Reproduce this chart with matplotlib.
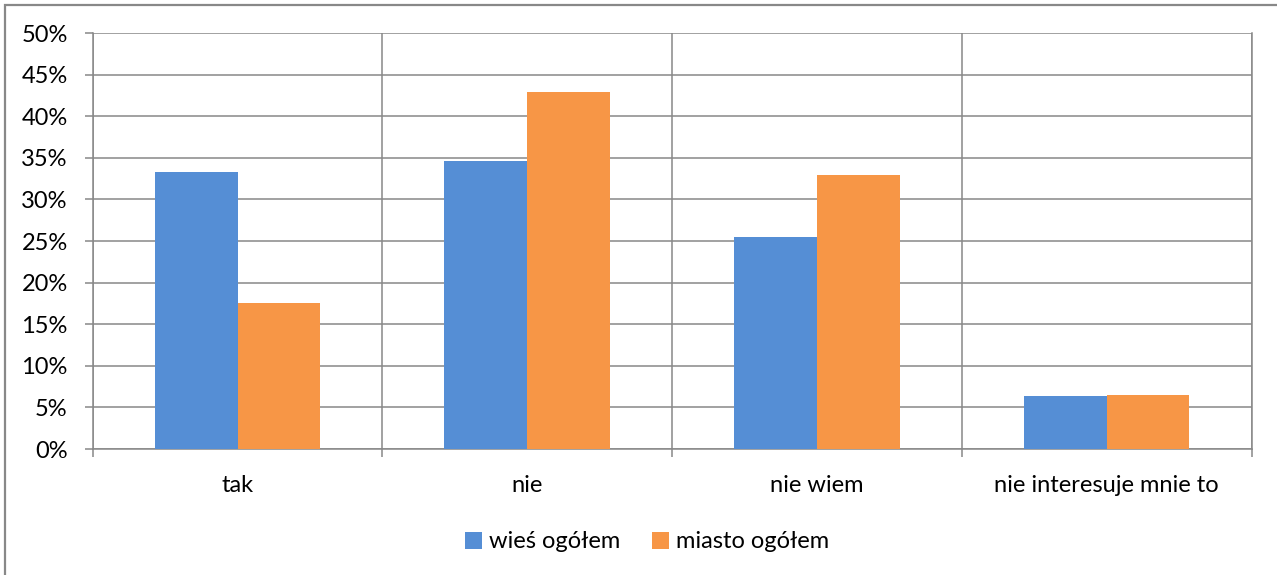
#!/usr/bin/env python

import numpy as np
import matplotlib
matplotlib.use('Agg')
import matplotlib.pyplot as plt
from matplotlib.patches import Rectangle
from matplotlib.ticker import PercentFormatter

plt.rcParams['font.family'] = ['Lato', 'DejaVu Sans']

# dane (w %)
kategorie = ['tak', 'nie', 'nie wiem', 'nie interesuje mnie to']
seria_nazwy = ['wieś ogółem', 'miasto ogółem']
wies = [33.3, 34.6, 25.5, 6.4]
miasto = [17.6, 42.9, 32.9, 6.5]
kolory = ['#558ED5', '#F79646']
y_ticks = np.arange(0, 51, 5)

szary = '#888888'
rozmiar = 17

fig = plt.figure(figsize=(12.77, 5.75), dpi=100)
ax = fig.add_axes([92.7 / 1277, 1 - 449 / 575, (1251.5 - 92.7) / 1277, (449 - 33) / 575])

x = np.arange(len(kategorie))
w = 1 / 3.5  # gap width 150%
ax.bar(x - w / 2, wies, width=w, color=kolory[0], label=seria_nazwy[0], zorder=3)
ax.bar(x + w / 2, miasto, width=w, color=kolory[1], label=seria_nazwy[1], zorder=3)

ax.set_xlim(-0.5, len(kategorie) - 0.5)
ax.set_ylim(0, 50)
ax.set_yticks(y_ticks)
ax.yaxis.set_major_formatter(PercentFormatter(decimals=0))

# granice kategorii jako linie siatki
ax.set_xticks(np.arange(-0.5, len(kategorie), 1))
ax.set_xticklabels([])
ax.set_xticks(x, minor=True)
ax.set_xticklabels(kategorie, minor=True)
ax.tick_params(axis='x', which='major', length=6, width=1.1, color=szary, direction='out')
ax.tick_params(axis='x', which='minor', length=0, pad=19, labelsize=rozmiar)
ax.tick_params(axis='y', length=6, width=1.1, color=szary, pad=12, labelsize=rozmiar)

ax.grid(True, which='major', axis='both', color=szary, linewidth=1.1, zorder=0)
ax.set_axisbelow(True)
for s in ax.spines.values():
	s.set_color(szary)
	s.set_linewidth(1.1)
ax.spines['top'].set_visible(False)

fig.legend(loc='center', bbox_to_anchor=(647 / 1277, 1 - 542 / 575), ncol=2,
	frameon=False, fontsize=rozmiar, handlelength=0.7, handleheight=0.7,
	handletextpad=0.3, columnspacing=1.35)

# ramka wykresu (przycieta z prawej i z dolu)
fig.patches.append(Rectangle((4.5 / 1277, -0.1), 1.2, 1 - 4.5 / 575 + 0.1,
	transform=fig.transFigure, fill=False, edgecolor=szary, linewidth=1.6))

plt.savefig('out.png', dpi=100)
plt.close()
